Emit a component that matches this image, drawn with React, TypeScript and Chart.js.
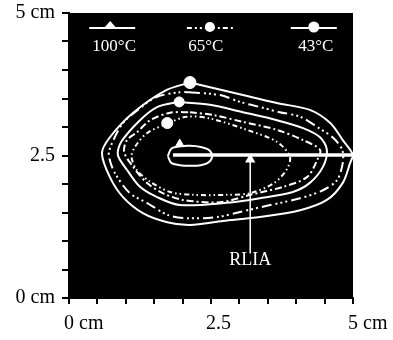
import { useEffect, useRef } from 'react';
import { Chart, registerables } from 'chart.js';

Chart.register(...registerables);

const FONT = '"Liberation Serif", "Times New Roman", serif';

// axis ticks (cm)
const tickValues = [0, 2.5, 5];
const xTickLabels = ['0 cm', '2.5', '5 cm'];
const yTickLabels = ['0 cm', '2.5', '5 cm'];

// legend
const legendLabels = ['100°C', '65°C', '43°C'];

// isotherm contours [x cm, y cm]
const contour43: number[][] = [
  [2.13, 3.78], [3.06, 3.56], [3.66, 3.42], [4.24, 3.3], [4.6, 3.07], [4.82, 2.77], [5.0, 2.51],
  [4.95, 2.37], [4.82, 2.02], [4.54, 1.72], [4.07, 1.54], [3.36, 1.42], [2.71, 1.35], [2.13, 1.28],
  [1.73, 1.33], [1.3, 1.49], [0.95, 1.77], [0.72, 2.12], [0.58, 2.54], [0.72, 2.82], [1.13, 3.25],
  [1.72, 3.65], [2.13, 3.78],
];
const contourDashDotDot: number[][] = [
  [2.13, 3.61], [2.66, 3.56], [3.01, 3.44], [3.36, 3.35], [3.71, 3.26], [4.07, 3.18], [4.37, 3.0],
  [4.65, 2.81], [4.81, 2.6], [4.82, 2.37], [4.72, 2.07], [4.47, 1.89], [4.07, 1.75], [3.54, 1.63],
  [3.01, 1.51], [2.61, 1.42], [2.08, 1.4], [1.73, 1.46], [1.37, 1.67], [1.07, 1.84], [0.81, 2.19],
  [0.7, 2.51], [0.76, 2.72], [0.95, 3.07], [1.25, 3.33], [1.55, 3.53], [1.95, 3.61], [2.13, 3.61],
];
const contourSolidMid: number[][] = [
  [1.92, 3.44], [2.48, 3.39], [3.06, 3.26], [3.66, 3.12], [4.12, 2.98], [4.42, 2.82], [4.54, 2.6],
  [4.47, 2.3], [4.24, 2.02], [3.94, 1.86], [3.36, 1.75], [2.78, 1.67], [1.95, 1.63], [1.55, 1.77],
  [1.25, 1.95], [1.02, 2.25], [0.86, 2.51], [0.92, 2.74], [1.25, 3.12], [1.55, 3.35], [1.92, 3.44],
];
const contourDash: number[][] = [
  [2.13, 3.26], [2.54, 3.21], [3.06, 3.09], [3.66, 2.95], [4.12, 2.77], [4.42, 2.6], [4.37, 2.42],
  [4.19, 2.12], [3.77, 1.95], [3.19, 1.81], [2.66, 1.68], [2.01, 1.72], [1.65, 1.84], [1.37, 2.02],
  [1.13, 2.3], [0.97, 2.56], [1.02, 2.77], [1.2, 2.91], [1.43, 3.12], [1.78, 3.25], [2.13, 3.26],
];
const contour65: number[][] = [
  [1.72, 3.06], [2.07, 3.18], [2.48, 3.15], [3.13, 2.95], [3.66, 2.74], [3.89, 2.48], [3.83, 2.25],
  [3.6, 2.01], [3.19, 1.84], [2.78, 1.81], [2.19, 1.81], [1.78, 1.86], [1.43, 2.04], [1.19, 2.25],
  [1.1, 2.48], [1.16, 2.65], [1.37, 2.89], [1.72, 3.06],
];
const contour100: number[][] = [
  [1.74, 2.49], [1.8, 2.62], [1.95, 2.66], [2.13, 2.67], [2.32, 2.65], [2.46, 2.6], [2.52, 2.49],
  [2.46, 2.38], [2.32, 2.33], [2.13, 2.32], [1.95, 2.33], [1.8, 2.37], [1.74, 2.49],
];

// markers on contours
const marker43 = [2.13, 3.78];
const markerMid = [1.94, 3.44];
const marker65 = [1.73, 3.07];
const marker100 = [1.95, 2.7];

// RLIA line and arrow
const rliaLineX = [1.83, 5.0];
const rliaLineY = [2.51, 2.51];
const rliaArrowX = [3.19, 3.19];
const rliaArrowY = [0.78, 2.43];
const rliaLabel = 'RLIA';
const rliaLabelY = 0.67;

const toPts = (arr: number[][]) => arr.map(([x, y]) => ({ x, y }));

const contourSet = (pts: number[][], dash: number[], width = 2) => ({
  data: toPts(pts),
  showLine: true,
  borderColor: '#fff',
  borderWidth: width,
  borderDash: dash,
  pointRadius: 0,
  tension: 0.3,
  fill: false,
});

const markerSet = (pt: number[], style: string, r: number) => ({
  data: [{ x: pt[0], y: pt[1] }],
  showLine: false,
  pointStyle: style,
  pointRadius: r,
  backgroundColor: '#fff',
  borderColor: '#fff',
  borderWidth: 1,
});

const tickCb = (labels: string[]) => (v: number | string) => {
  const i = tickValues.indexOf(Number(v));
  return i >= 0 ? labels[i] : '';
};

export default function App() {
  const ref = useRef<HTMLCanvasElement>(null);
  useEffect(() => {
    const canvas = ref.current!;
    const bgPlugin = {
      id: 'bg',
      beforeDraw(chart: any) {
        const { ctx, chartArea: a } = chart;
        ctx.save();
        ctx.fillStyle = '#000';
        ctx.fillRect(a.left, a.top, a.right - a.left, a.bottom - a.top);
        ctx.restore();
      },
      afterDatasetsDraw(chart: any) {
        const { ctx, chartArea: a, scales } = chart;
        const w = a.right - a.left;
        const centers = [0.152, 0.496, 0.862];
        const dashes = [[], [5, 3, 2, 3, 2, 3], []];
        ctx.save();
        ctx.strokeStyle = '#fff';
        ctx.fillStyle = '#fff';
        centers.forEach((c, i) => {
          const cx = a.left + c * w;
          const ly = a.top + 15;
          ctx.lineWidth = 2;
          ctx.setLineDash(dashes[i]);
          ctx.beginPath();
          ctx.moveTo(cx - 23, ly);
          ctx.lineTo(cx + 23, ly);
          ctx.stroke();
          ctx.setLineDash([]);
          ctx.beginPath();
          if (i === 0) {
            ctx.moveTo(cx - 2, ly - 7);
            ctx.lineTo(cx + 5, ly + 1);
            ctx.lineTo(cx - 9, ly + 1);
            ctx.closePath();
          } else {
            ctx.arc(cx, ly - 1, i === 1 ? 5 : 5.5, 0, Math.PI * 2);
          }
          ctx.fill();
          ctx.font = `17px ${FONT}`;
          ctx.textAlign = 'center';
          ctx.textBaseline = 'middle';
          ctx.fillText(legendLabels[i], cx + (i === 1 ? -4 : 2), a.top + 34);
        });
        ctx.font = `18px ${FONT}`;
        ctx.textAlign = 'center';
        ctx.textBaseline = 'middle';
        ctx.fillText(rliaLabel, scales.x.getPixelForValue(rliaArrowX[0]), scales.y.getPixelForValue(rliaLabelY));
        ctx.restore();
      },
    };

    const chart = new Chart(canvas, {
      type: 'scatter',
      data: {
        datasets: [
          contourSet(contour43, []),
          contourSet(contourDashDotDot, [10, 4, 2, 3, 2, 3, 2, 4]),
          contourSet(contourSolidMid, []),
          contourSet(contourDash, [7, 3, 2, 3]),
          contourSet(contour65, [5, 3, 1.5, 3, 1.5, 3]),
          contourSet(contour100, []),
          {
            data: rliaLineX.map((x, i) => ({ x, y: rliaLineY[i] })),
            showLine: true,
            borderColor: '#fff',
            borderWidth: 3.5,
            pointRadius: 0,
          },
          {
            data: rliaArrowX.map((x, i) => ({ x, y: rliaArrowY[i] })),
            showLine: true,
            borderColor: '#fff',
            backgroundColor: '#fff',
            borderWidth: 1.5,
            pointStyle: 'triangle',
            pointRadius: [0, 4.5],
          },
          markerSet(marker43, 'circle', 6),
          markerSet(markerMid, 'circle', 5),
          markerSet(marker65, 'circle', 5.5),
          markerSet(marker100, 'triangle', 5),
        ] as any,
      },
      options: {
        responsive: false,
        animation: false,
        devicePixelRatio: 1,
        layout: { padding: { left: 0, top: 13, right: 40, bottom: 0 } },
        plugins: { legend: { display: false }, tooltip: { enabled: false } },
        scales: {
          x: {
            type: 'linear',
            min: 0,
            max: 5,
            afterFit: (s: any) => {
              s.height = 42;
              s.paddingLeft = 0;
              s.paddingRight = 0;
            },
            border: { display: true, color: '#000', width: 2 },
            grid: { drawOnChartArea: false, drawTicks: true, tickLength: 6, color: '#000', lineWidth: 2 },
            ticks: {
              stepSize: 0.5,
              autoSkip: false,
              maxRotation: 0,
              align: 'start',
              labelOffset: -5,
              padding: 8,
              color: '#000',
              font: { family: FONT, size: 20 },
              callback: tickCb(xTickLabels),
            },
          },
          y: {
            type: 'linear',
            min: 0,
            max: 5,
            afterFit: (s: any) => {
              s.width = 69;
              s.paddingTop = 0;
              s.paddingBottom = 0;
            },
            border: { display: true, color: '#000', width: 2 },
            grid: { drawOnChartArea: false, drawTicks: true, tickLength: 7, color: '#000', lineWidth: 2 },
            ticks: {
              stepSize: 0.5,
              autoSkip: false,
              padding: 7,
              color: '#000',
              font: { family: FONT, size: 20 },
              callback: tickCb(yTickLabels),
            },
          },
        },
      } as any,
      plugins: [bgPlugin],
    });
    return () => chart.destroy();
  }, []);

  return (
    <div style={{ position: 'fixed', left: 0, top: 0, width: 393, height: 340, background: '#fff' }}>
      <canvas ref={ref} width={393} height={340} style={{ display: 'block', width: 393, height: 340 }} />
    </div>
  );
}
